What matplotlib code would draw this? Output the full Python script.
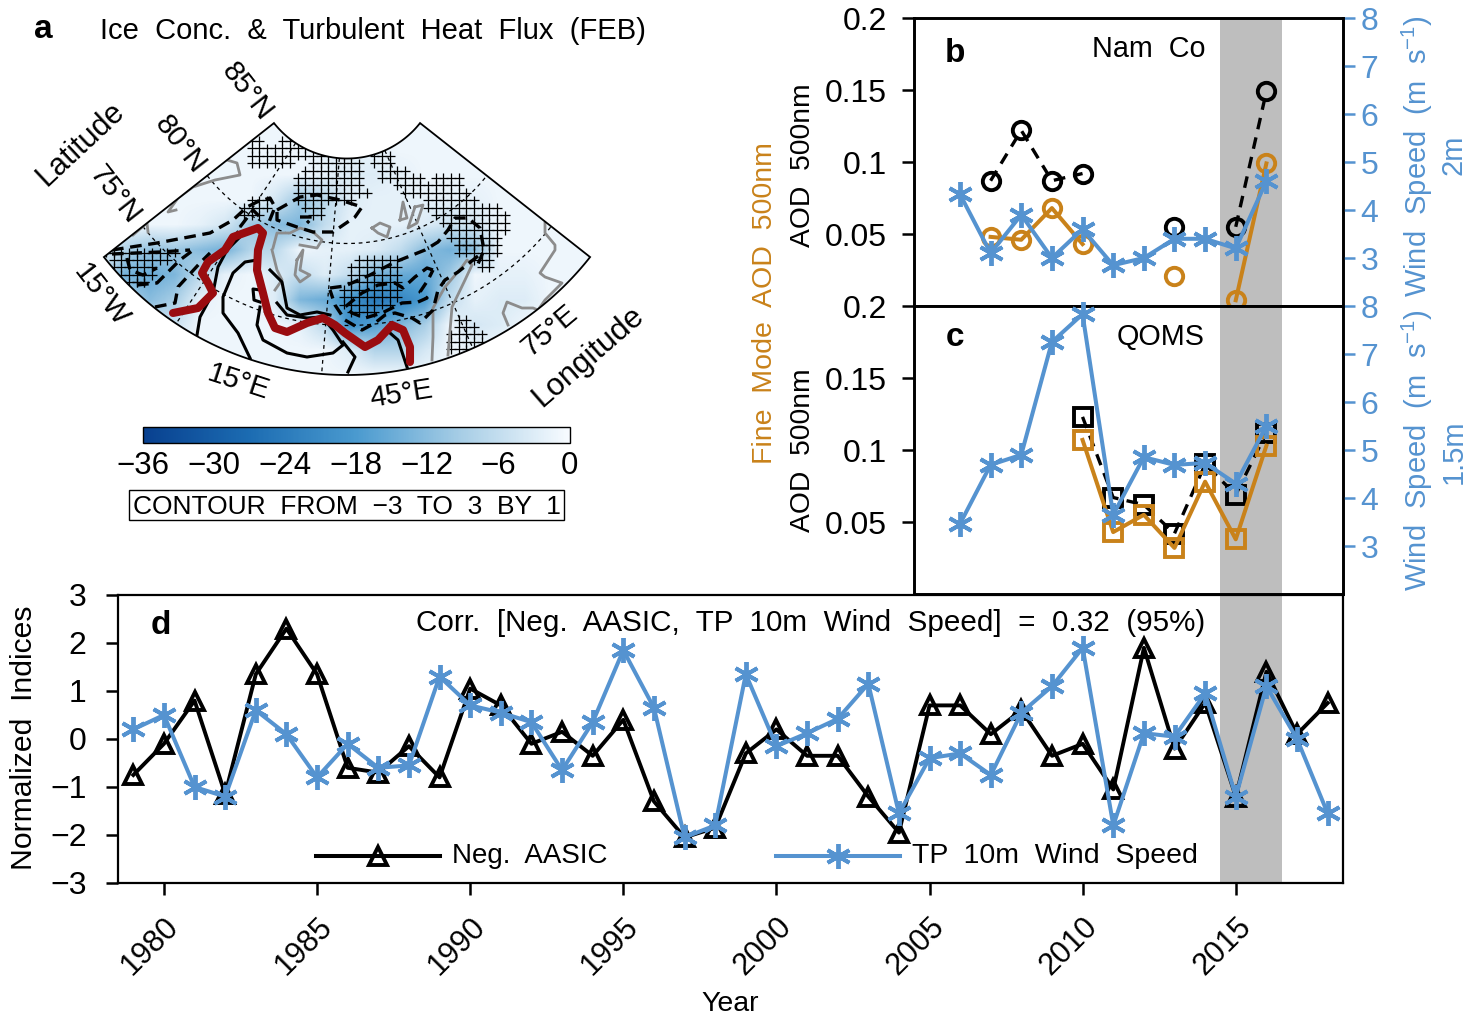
import numpy as np
import matplotlib
matplotlib.use("Agg")
import matplotlib.pyplot as plt
from matplotlib.colors import LinearSegmentedColormap
from matplotlib.collections import LineCollection
from matplotlib.patches import Polygon, Rectangle

plt.rcParams['font.family'] = ['Liberation Sans', 'DejaVu Sans']
plt.rcParams['mathtext.fontset'] = 'custom'
plt.rcParams['mathtext.rm'] = 'Liberation Sans'
plt.rcParams['mathtext.default'] = 'regular'
plt.rcParams['axes.unicode_minus'] = True

W, H = 1467, 1018
BLUE = '#5593D0'
ORANGE = '#C9821A'
GRAYBAND = '#BEBEBE'
RED = '#9A0C10'
COAST = '#8C8C8C'

# ---------- panel d ----------
years_d = list(range(1979, 2019))
neg_aasic = [-0.75, -0.1, 0.8, -1.15, 1.35, 2.3, 1.35, -0.6, -0.7, -0.15,
             -0.8, 1.05, 0.7, -0.1, 0.15, -0.35, 0.4, -1.3, -2.05, -1.85,
             -0.3, 0.2, -0.35, -0.35, -1.2, -1.95, 0.7, 0.7, 0.1, 0.6,
             -0.35, -0.1, -1.05, 1.9, -0.2, 0.75, -1.2, 1.4, 0.1, 0.75]
tp_wind = [0.2, 0.5, -1.0, -1.2, 0.6, 0.1, -0.8, -0.1, -0.6, -0.55,
           1.3, 0.7, 0.55, 0.35, -0.65, 0.35, 1.85, 0.65, -2.05, -1.8,
           1.35, -0.15, 0.12, 0.42, 1.15, -1.55, -0.4, -0.3, -0.75, 0.55,
           1.1, 1.9, -1.8, 0.12, 0.05, 0.95, -1.2, 1.1, 0.0, -1.55]

# ---------- panels b, c ----------
years_bc = list(range(2006, 2017))
nan = float('nan')
namco_aod = [nan, 0.087, 0.122, 0.087, 0.092, nan, nan, 0.055, nan, 0.055, 0.149]
namco_fine = [nan, 0.048, 0.046, 0.068, 0.043, nan, nan, 0.021, nan, 0.004, 0.099]
namco_wind = [4.33, 3.1, 3.9, 3.0, 3.6, 2.85, 3.0, 3.4, 3.4, 3.2, 4.6]
qoms_aod = [nan, nan, nan, nan, 0.123, 0.067, 0.062, 0.042, 0.09, 0.069, 0.112]
qoms_fine = [nan, nan, nan, nan, 0.107, 0.043, 0.055, 0.032, 0.078, 0.038, 0.103]
qoms_wind = [3.46, 4.69, 4.9, 7.25, 7.83, 3.65, 4.85, 4.69, 4.73, 4.3, 5.5]

# ---------- panel a: map-plane traces ----------
heat_x = list(range(100, 601, 25))
heat_y = list(range(125, 376, 25))
heat_flux = [
 [-1]*21,
 [-1,-1,-1,-1,-1,-1,-1,-1,-1,-2,-2,-2,-1,-1,-1,-1,-1,-1,-1,-1,-1],
 [-1,-1,-1,-1,-1,-1,-1,-1,-1,-2,-3,-3,-2,-1,-1,-1,-1,-1,-1,-1,-1],
 [-1,-1,-1,-1,-1,-1,-1,-4,-10,-7,-3,-2,-2,-2,-2,-2,-1,-1,-1,-1,-1],
 [-1,-1,-1,-1,-2,-4,-10,-12,-13,-6,-2,-2,-2,-3,-5,-4,-1,-1,-1,-1,-1],
 [-1,-8,-11,-10,-12,-14,-8,-7,-1,-2,-2,-3,-6,-12,-14,-12,-1,-1,-1,-1,-1],
 [-6,-14,-15,-13,-7,-2,-1,-3,-6,-3,-6,-14,-15,-16,-10,-1,-2,-2,-1,-1,-1],
 [-4,-8,-12,-9,-2,-1,-1,-3,-13,-15,-20,-24,-22,-18,-6,-2,-3,-3,-1,-1,-1],
 [-1,-2,-4,-5,-1,-1,-1,-1,-2,-7,-20,-17,-13,-9,-1,-4,-3,-1,-1,-1,-1],
 [-1,-1,-1,-1,-1,-1,-1,-1,-1,-1,-3,-8,-8,-4,-1,-2,-1,-1,-1,-1,-1],
 [-1]*21,
]
ice_edge = [(173,313),(198,308),(213,293),(208,283),(202,273),(208,262),(225,250),
            (233,237),(258,228),(263,233),(258,250),(257,270),(263,293),(268,313),
            (275,328),(287,332),(307,323),(323,318),(335,325),(345,333),(365,347),
            (378,340),(392,325),(403,330),(410,347),(410,362)]
solid_contours = [
 [(197,335),(200,317),(213,293),(218,267),(227,250),(245,232)],
 [(250,358),(238,333),(223,313),(223,297),(233,273),(245,262),(257,260)],
 [(260,290),(253,289),(254,300),(260,302)],
 [(260,307),(257,325),(263,340),(287,353),(307,357),(333,353),(343,345),(333,330),(323,318)],
 [(277,303),(287,315),(307,318),(323,317)],
 [(270,270),(282,282),(287,308),(300,315),(317,312),(330,315)],
 [(343,342),(355,357),(348,372)],
 [(390,333),(398,340),(407,367)],
]
dashed_contours = [
 [(112,250),(157,243),(210,233),(233,220),(247,207),(257,202),(270,198),(275,207),(267,227)],
 [(240,227),(253,210),(260,217)],
 [(277,210),(300,197),(317,195),(340,200),(362,207),(355,217),(333,232),(313,232),(297,227),(277,220),(277,210)],
 [(300,217),(313,217),(307,223)],
 [(155,307),(175,303),(178,287),(200,263),(210,253)],
 [(127,258),(130,270),(143,275),(157,268)],
 [(137,285),(157,283),(180,260),(192,251)],
 [(112,254),(160,252),(190,250)],
 [(330,288),(345,286),(370,275),(395,262),(425,250),(438,242),(448,230),(455,218),(468,218),(480,228),(484,250),(478,264)],
 [(478,256),(458,272),(445,280),(438,290),(433,310),(420,323),(412,318),(395,313),(385,315),(375,323),(362,330),(345,320),(335,305),(330,290)],
 [(433,270),(427,268),(415,277),(403,288),(395,283),(378,285),(362,293),(345,307),(352,313),(365,318),(382,313),(402,303),(418,302),(427,298),(420,292),(428,280),(433,270)],
]
coasts = [
 [(227,160),(237,163),(240,175),(215,180),(193,187),(178,198),(168,212),(176,210)],
 [(133,235),(147,223),(148,232)],
 [(273,248),(277,233),(290,233),(300,228),(313,232),(322,240),(317,248),(300,245)],
 [(272,250),(277,270),(282,280),(275,290)],
 [(297,260),(303,250),(300,270),(310,275),(300,282),(295,275),(297,260)],
 [(432,360),(433,337),(433,308),(445,287),(462,267),(467,260),(472,265),(465,280),(452,307),(448,355)],
 [(508,325),(503,313),(507,302),(522,308),(533,308),(538,310),(545,300),(562,283),(545,277),(540,273),(555,250),(555,245),(545,233),(545,223)],
 [(400,220),(403,202),(407,218),(400,220)],
 [(415,207),(423,205),(417,223),(408,228),(415,207)],
 [(372,228),(380,223),(390,227),(387,237),(378,233),(372,228)],
]
# significant cells: (row y, x start, x end)
hatch_spans = [
 (140,252,257),(140,282,297),(148,252,303),(155,252,350),(163,252,290),(163,310,362),
 (170,302,362),(178,297,362),(185,297,362),(192,297,365),(200,300,352),(208,308,320),(215,310,320),
 (200,250,265),(208,245,265),(215,243,262),
 (153,373,388),(162,373,388),(170,380,405),(177,380,420),(177,432,455),(183,395,462),(192,402,468),
 (198,425,477),(205,425,498),(213,433,503),(220,440,503),(227,452,503),(235,452,500),(242,455,490),
 (248,455,495),(255,460,497),(263,475,492),(270,480,490),
 (260,362,398),(268,353,398),(275,352,398),(283,348,398),(292,342,398),(300,342,398),(307,345,388),(313,352,372),
 (252,107,173),(258,110,165),(265,117,155),(273,120,153),(280,130,147),(285,135,143),
 (322,460,463),(328,455,473),(335,452,480),(342,452,480),(349,452,468),
]
cbar_ticks = [-36, -30, -24, -18, -12, -6, 0]
meridian_angles = [-33.5, -4.7, 24.0]
parallel_radii = [178, 260]

def fx(x): return x / W
def fy(y): return 1 - y / H
def axrect(l, t, r, b): return [fx(l), fy(b), (r - l) / W, (b - t) / H]

fig = plt.figure(figsize=(W / 100, H / 100), dpi=100)

def txt(x, y, s, size=20, **kw):
    kw.setdefault('ha', 'center'); kw.setdefault('va', 'center')
    if kw.get('rotation') == 90:
        x += 2.5
    elif 'rotation' not in kw:
        y += 4
    return fig.text(fx(x), fy(y), s, fontsize=size, **kw)

# ===== panel a =====
cmap = LinearSegmentedColormap.from_list('hf', ['#08408F', '#1C6CB2', '#4A9ACF', '#A8CEE6', '#F7FBFF'])
am = fig.add_axes(axrect(95, 110, 600, 385))
am.set_xlim(95, 600); am.set_ylim(385, 110); am.axis('off')
AX, AY, R0, R1, HALF = 347.0, 65.5, 93.0, 309.5, 51.76
def pol(theta, r):
    t = np.radians(theta)
    return AX + r * np.sin(t), AY + r * np.cos(t)
th = np.linspace(-HALF, HALF, 200)
xo, yo = pol(th, R1); xi, yi = pol(th[::-1], R0)
fan_xy = np.column_stack([np.r_[xo, xi], np.r_[yo, yi]])
fan = Polygon(fan_xy, closed=True, fc='none', ec='none', transform=am.transData)
am.add_patch(fan)
im = am.imshow(np.array(heat_flux, float), extent=[heat_x[0]-12.5, heat_x[-1]+12.5, heat_y[-1]+12.5, heat_y[0]-12.5],
               cmap=cmap, vmin=-36, vmax=0, interpolation='bilinear', aspect='auto', zorder=1)
am.set_xlim(95, 600); am.set_ylim(385, 110)
im.set_clip_path(fan)
def clipped(artist):
    artist.set_clip_path(fan)
    return artist
for a in meridian_angles:
    x, y = pol(np.array([a, a]), np.array([R0, R1]))
    clipped(am.plot(x, y, color='k', lw=0.9, ls=(0, (3, 3)), zorder=2)[0])
for r in parallel_radii:
    x, y = pol(th, r)
    clipped(am.plot(x, y, color='k', lw=0.9, ls=(0, (3, 3)), zorder=2)[0])
dxg, dyg = 7.67, 7.45
segs = []
for yy, x0, x1 in hatch_spans:
    j = round((yy - 140.8) / dyg); yc = 140.8 + j * dyg
    i0 = round((x0 - 251.7) / dxg); i1 = round((x1 - 251.7) / dxg)
    for i in range(i0, i1 + 1):
        xc = 251.7 + i * dxg
        segs.append([(xc - dxg * 0.62, yc), (xc + dxg * 0.62, yc)])
        segs.append([(xc, yc - dyg * 0.62), (xc, yc + dyg * 0.62)])
clipped(am.add_collection(LineCollection(segs, colors='k', linewidths=0.9, zorder=3)))
for c in coasts:
    a = np.array(c); clipped(am.plot(a[:, 0], a[:, 1], color=COAST, lw=2.0, zorder=4, solid_joinstyle='round')[0])
for c in solid_contours:
    a = np.array(c); clipped(am.plot(a[:, 0], a[:, 1], color='k', lw=2.2, zorder=5, solid_joinstyle='round')[0])
for c in dashed_contours:
    a = np.array(c); clipped(am.plot(a[:, 0], a[:, 1], color='k', lw=2.4, ls=(0, (3.5, 2)), zorder=5)[0])
a = np.array(ice_edge)
am.plot(a[:, 0], a[:, 1], color=RED, lw=5.8, zorder=6, solid_capstyle='round', solid_joinstyle='round')
am.add_patch(Polygon(fan_xy, closed=True, fc='none', ec='k', lw=1.3, zorder=7))

txt(43, 26, 'a', 24, fontweight='bold')
txt(100, 27, 'Ice  Conc.  &  Turbulent  Heat  Flux  (FEB)', 21, ha='left')
for x, y, s, r, sz in [(81, 144, 'Latitude', 43, 22), (247, 92, '85°N', -52, 21), (180, 145, '80°N', -52, 21),
                       (115, 195, '75°N', -52, 21), (101, 295, '15°W', -52, 21), (238, 382, '15°E', -18, 21),
                       (401, 394, '45°E', 9, 21), (550, 330, '75°E', 40, 21), (588, 357, 'Longitude', 41, 22.5)]:
    txt(x, y, s, sz, rotation=r, rotation_mode='anchor')

cax = fig.add_axes(axrect(142.5, 426.5, 569.5, 443))
sm = plt.cm.ScalarMappable(norm=plt.Normalize(-36, 0), cmap=cmap)
cb = fig.colorbar(sm, cax=cax, orientation='horizontal')
cb.set_ticks(cbar_ticks)
cb.set_ticklabels([str(t).replace('-', '\u2212') for t in cbar_ticks])
cax.tick_params(length=0, labelsize=22.5, pad=6)
cb.outline.set_linewidth(1.0)
fig.add_artist(Rectangle((fx(129), fy(520)), 435 / W, 30 / H, transform=fig.transFigure, fc='white', ec='k', lw=1.0))
txt(346.5, 503, 'CONTOUR  FROM  \u22123  TO  3  BY  1', 19)

# ===== panels b, c =====
def station_panel(rect, aod, fine, wind, marker, letter, name, lety, namey):
    ax = fig.add_axes(axrect(*rect))
    ax.set_xlim(2004.5, 2018.5); ax.set_ylim(0, 0.2)
    ax.axvspan(2014.5, 2016.5, color=GRAYBAND, lw=0, zorder=0)
    ax.plot(years_bc, aod, color='k', lw=2.4, ls=(0, (3.5, 2.5)), marker=marker, ms=12.5, mfc='none', mec='k', mew=2.8, clip_on=False, zorder=3)
    ax.plot(years_bc, fine, color=ORANGE, lw=2.9, marker=marker, ms=12.5, mfc='none', mec=ORANGE, mew=2.8, clip_on=False, zorder=4)
    ax.set_xticks([])
    ax.set_yticks([0.05, 0.1, 0.15, 0.2]); ax.set_yticklabels(['0.05', '0.1', '0.15', '0.2'])
    ax.tick_params(axis='y', length=8.5, width=1.8, labelsize=23, pad=11)
    for s in ax.spines.values(): s.set_linewidth(1.9)
    ax2 = ax.twinx()
    ax2.set_ylim(2, 8); ax2.set_yticks([3, 4, 5, 6, 7, 8])
    ax2.plot(years_bc, wind, color=BLUE, lw=2.9, marker=(6, 2, 0), ms=18, mew=2.8, mec=BLUE, clip_on=False, zorder=5)
    ax2.tick_params(axis='y', length=8.5, width=1.8, color=BLUE, labelcolor=BLUE, labelsize=23, pad=4)
    for s in ax2.spines.values(): s.set_linewidth(1.9)
    txt(955, lety, letter, 24, fontweight='bold')
    txt(1205, namey, name, 20.7, ha='right')
    return ax

station_panel((914, 18, 1343, 306), namco_aod, namco_fine, namco_wind, 'o', 'b', 'Nam  Co', 49, 45)
station_panel((914, 306, 1343, 594), qoms_aod, qoms_fine, qoms_wind, 's', 'c', 'QOMS', 333, 333)
txt(800, 165, 'AOD  500nm', 20.3, rotation=90)
txt(800, 450, 'AOD  500nm', 20.3, rotation=90)
txt(762, 303, 'Fine  Mode  AOD  500nm', 20.5, rotation=90, color=ORANGE)
txt(1415, 156, 'Wind  Speed  (m  s$^{\u22121}$)', 21, rotation=90, color=BLUE)
txt(1415, 450, 'Wind  Speed  (m  s$^{\u22121}$)', 21, rotation=90, color=BLUE)
txt(1451, 155, '2m', 21, rotation=90, color=BLUE)
txt(1451, 452, '1.5m', 21, rotation=90, color=BLUE)

# ===== panel d =====
ad = fig.add_axes(axrect(118, 595, 1343, 883))
ad.set_xlim(1978.5, 2018.5); ad.set_ylim(-3, 3)
ad.axvspan(2014.5, 2016.5, color=GRAYBAND, lw=0, zorder=0)
ad.plot(years_d, neg_aasic, color='k', lw=2.8, marker='^', ms=12.5, mfc='none', mec='k', mew=2.8, zorder=3)
ad.plot(years_d, tp_wind, color=BLUE, lw=2.9, marker=(6, 2, 0), ms=18, mec=BLUE, mew=2.8, zorder=4)
ad.set_yticks(range(-3, 4))
ad.set_yticklabels([str(v).replace('-', '\u2212') for v in range(-3, 4)])
ad.set_xticks(range(1980, 2016, 5))
ad.tick_params(axis='y', length=8.5, width=1.8, labelsize=23, pad=14)
ad.tick_params(axis='x', length=8.5, width=1.8, labelsize=22, pad=12)
for lab in ad.get_xticklabels():
    lab.set_rotation(45); lab.set_ha('right'); lab.set_va('top'); lab.set_rotation_mode('anchor')
for s in ad.spines.values(): s.set_linewidth(1.6)
txt(161, 621, 'd', 24, fontweight='bold')
txt(1205, 619, 'Corr.  [Neg.  AASIC,  TP  10m  Wind  Speed]  =  0.32  (95%)', 21.3, ha='right')
txt(730, 1000, 'Year', 20.5)
txt(22, 738, 'Normalized  Indices', 21.7, rotation=90)
def key(x0, x1, y, **kw):
    xm = (x0 + x1) / 2
    fig.add_artist(plt.Line2D([fx(x0), fx(x1)], [fy(y), fy(y)], color=kw['color'], lw=2.9))
    fig.add_artist(plt.Line2D([fx(xm)], [fy(y)], ls='none', marker=kw['marker'], ms=kw['ms'], mfc='none',
                              mec=kw['color'], mew=2.8))
key(316, 440, 856, color='k', marker='^', ms=12.5)
key(776, 900, 856, color=BLUE, marker=(6, 2, 0), ms=18)
txt(452, 852, 'Neg.  AASIC', 20, ha='left')
txt(912, 852, 'TP  10m  Wind  Speed', 20.5, ha='left')

fig.savefig('out.png', dpi=100)
